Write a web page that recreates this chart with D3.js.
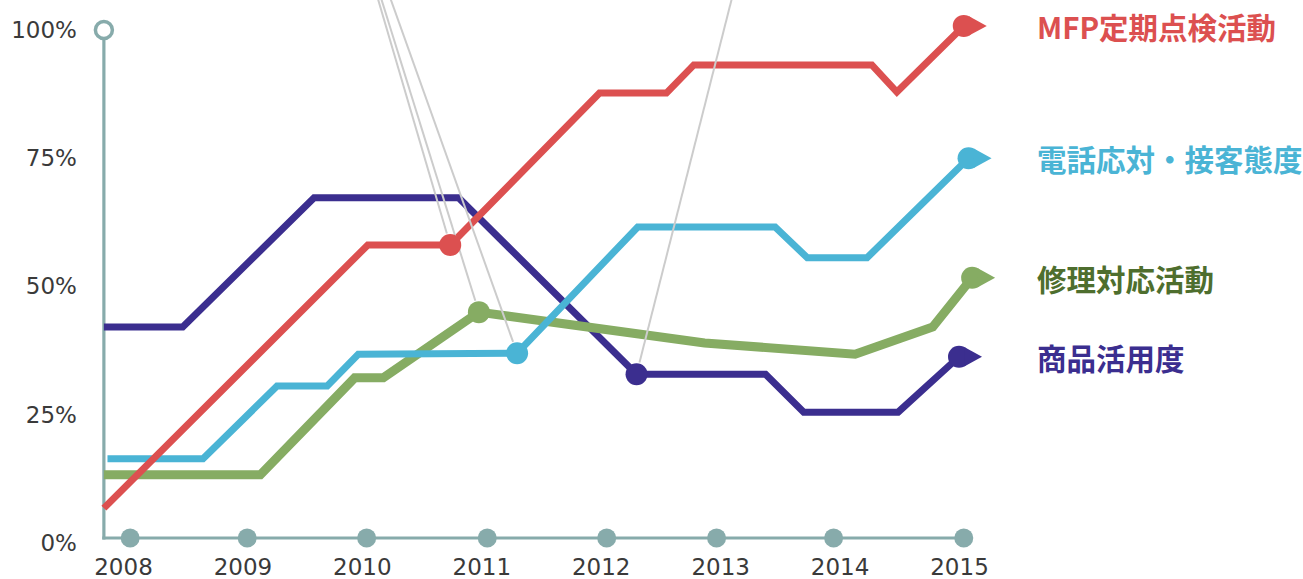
<!DOCTYPE html>
<html>
<head>
<meta charset="utf-8">
<script src="https://cdn.jsdelivr.net/npm/d3@7"></script>
<style>
  body { margin: 0; background: #fff; }
  .axis text { font-family: 'DejaVu Sans', sans-serif; font-size: 23px; fill: #3a3a3a; }
  .axis .domain, .axis line { display: none; }
  .series-label { font-family: 'Noto Sans CJK JP', sans-serif; font-weight: bold; font-size: 29.5px; }
</style>
</head>
<body>
<div id="chart"></div>
<script>
// data (x in fractional years, y in %)
const years = [2008, 2009, 2010, 2011, 2012, 2013, 2014, 2015];
const yTicks = [0, 25, 50, 75, 100];
const axisDots = [2008.06, 2009.04, 2010.04, 2011.05, 2012.05, 2012.97, 2013.95, 2015.04];

const seriesNames = ['MFP定期点検活動', '電話応対・接客態度', '修理対応活動', '商品活用度'];

const mfp = [[2007.84, 6.8], [2010.05, 58.1], [2010.74, 58.1], [2011.99, 87.7], [2012.55, 87.7],
  [2012.78, 93.2], [2014.27, 93.2], [2014.48, 87.9], [2015.04, 100.8]];
const phone = [[2007.87, 16.4], [2008.67, 16.4], [2009.29, 30.6], [2009.71, 30.6], [2009.97, 36.8],
  [2011.30, 37.0], [2012.31, 61.6], [2013.46, 61.6], [2013.73, 55.6], [2014.23, 55.6], [2015.08, 75.0]];
const repair = [[2007.84, 13.3], [2009.15, 13.3], [2009.94, 32.2], [2010.18, 32.2], [2010.98, 45.0],
  [2012.87, 39.0], [2014.13, 36.8], [2014.78, 42.1], [2015.11, 51.7]];
const product = [[2007.84, 42.1], [2008.50, 42.1], [2009.60, 67.3], [2010.81, 67.3], [2012.30, 32.9],
  [2013.38, 32.9], [2013.70, 25.5], [2014.49, 25.5], [2015.00, 36.3]];

// which vertex carries the mid marker
const markerIndex = [2, 5, 4, 4];
// leader lines: go from the mid marker up off the top of the chart
const leaderTargets = [[2010.085, 110], [2010.18, 110], [2010.11, 110], [2013.14, 110]];

const colors = ['#dc5050', '#4ab4d5', '#86ac63', '#3b2e8f'];
const labelColors = ['#dc5050', '#4ab4d5', '#4e6e2e', '#3b2e8f'];
const strokeWidths = [7, 7, 9, 7];
const drawOrder = [3, 2, 1, 0];

const chart = {
  width: 1303,
  height: 579,
  axisStart: 2007.84,
  labelX: 1037
};

function generateScales() {
  return {
    xScale: d3.scaleLinear().domain([2008, 2015]).range([123, 959]),
    yScale: d3.scaleLinear().domain([0, 100]).range([543, 30])
  };
}

const { xScale, yScale } = generateScales();
const data = [mfp, phone, repair, product];

const svg = d3.select('#chart')
  .append('svg')
  .attr('width', chart.width)
  .attr('height', chart.height);

const axisColor = '#87abab';
const axisX = xScale(chart.axisStart);
const baseY = yScale(0) - 5;

// y axis line with hollow circle on top
svg.append('line')
  .attr('x1', axisX).attr('x2', axisX)
  .attr('y1', yScale(100) + 9).attr('y2', baseY + 1.5)
  .attr('stroke', axisColor).attr('stroke-width', 3.2);
svg.append('circle')
  .attr('cx', axisX).attr('cy', yScale(100)).attr('r', 8.5)
  .attr('fill', '#fff').attr('stroke', axisColor).attr('stroke-width', 3.5);

// x baseline with dots
svg.append('line')
  .attr('x1', axisX - 1.6).attr('x2', xScale(d3.max(axisDots)))
  .attr('y1', baseY).attr('y2', baseY)
  .attr('stroke', axisColor).attr('stroke-width', 3.2);
svg.append('g')
  .selectAll('circle')
  .data(axisDots)
  .enter()
    .append('circle')
    .attr('cx', (d) => xScale(d))
    .attr('cy', baseY)
    .attr('r', 9.5)
    .attr('fill', axisColor);

// tick labels
svg.append('g')
  .attr('class', 'axis y')
  .attr('transform', `translate(${axisX}, 0)`)
  .call(d3.axisLeft(yScale).tickValues(yTicks).tickFormat((d) => d + '%').tickSize(0).tickPadding(27));

svg.append('g')
  .attr('class', 'axis x')
  .attr('transform', `translate(0, ${baseY})`)
  .call(d3.axisBottom(xScale).tickValues(years).tickFormat(d3.format('d')).tickSize(0).tickPadding(21));

// lines
const line = d3.line()
  .x((d) => xScale(d[0]))
  .y((d) => yScale(d[1]));

const linesG = svg.append('g');
drawOrder.forEach((i) => {
  linesG.append('path')
    .datum(data[i])
    .attr('d', line)
    .attr('fill', 'none')
    .attr('stroke', colors[i])
    .attr('stroke-width', strokeWidths[i])
    .attr('stroke-linejoin', 'miter');
});

// leader lines
const leaderG = svg.append('g');
data.forEach((pts, i) => {
  const p = pts[markerIndex[i]];
  const x0 = xScale(p[0]), y0 = yScale(p[1]);
  const x1 = xScale(leaderTargets[i][0]), y1 = yScale(leaderTargets[i][1]);
  const len = Math.hypot(x1 - x0, y1 - y0);
  const gap = 12;
  leaderG.append('line')
    .attr('x1', x0 + (x1 - x0) / len * gap)
    .attr('y1', y0 + (y1 - y0) / len * gap)
    .attr('x2', x1).attr('y2', y1)
    .attr('stroke', '#cccccc')
    .attr('stroke-width', 2);
});

// markers
const r = 11;
const tip = 23;
const tAng = Math.acos(r / tip);
const arrowPath = `M${tip},0L${r * Math.cos(tAng)},${r * Math.sin(tAng)}L${r * Math.cos(tAng)},${-r * Math.sin(tAng)}Z`;

data.forEach((pts, i) => {
  const mid = pts[markerIndex[i]];
  svg.append('circle')
    .attr('cx', xScale(mid[0])).attr('cy', yScale(mid[1]))
    .attr('r', r).attr('fill', colors[i]);

  const last = pts[pts.length - 1];
  const end = svg.append('g')
    .attr('transform', `translate(${xScale(last[0])},${yScale(last[1])})`);
  end.append('circle').attr('r', r).attr('fill', colors[i]);
  end.append('path').attr('d', arrowPath).attr('fill', colors[i]);

  svg.append('text')
    .attr('class', 'series-label')
    .attr('x', chart.labelX)
    .attr('y', yScale(last[1]))
    .attr('dominant-baseline', 'central')
    .attr('fill', labelColors[i])
    .text(seriesNames[i]);
});
</script>
</body>
</html>
